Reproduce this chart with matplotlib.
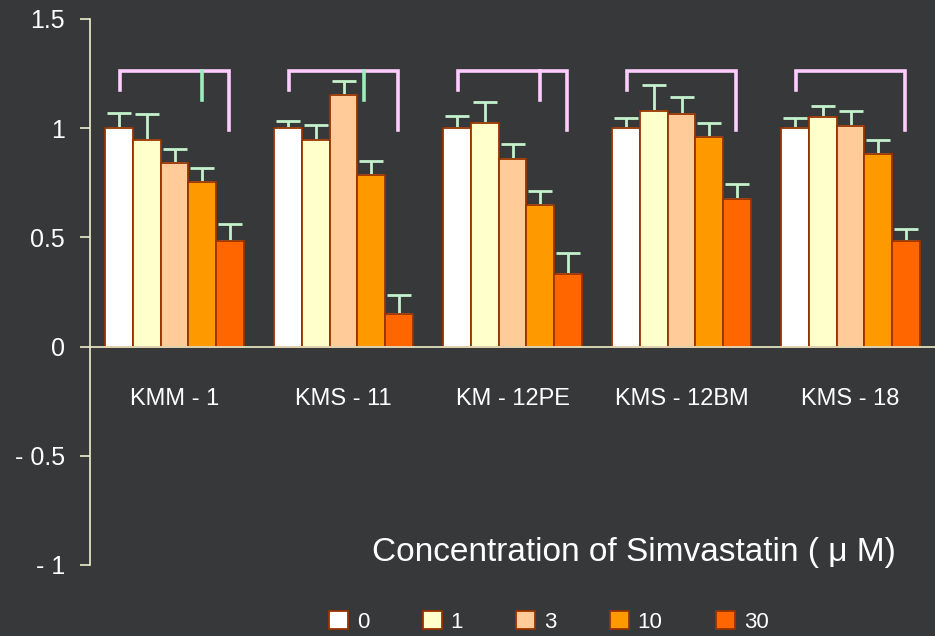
import matplotlib.pyplot as plt
import numpy as np

plt.rcParams['font.family'] = ['Liberation Sans', 'DejaVu Sans']

cell_lines = ['KMM-1', 'KMS-11', 'KM-12PE', 'KMS-12BM', 'KMS-18']
doses = ['0', '1', '3', '10', '30']

# relative viability per dose (rows) and cell line (columns)
means = [
    [1.00, 1.00, 1.00, 1.00, 1.00],
    [0.947, 0.947, 1.024, 1.078, 1.053],
    [0.839, 1.154, 0.860, 1.067, 1.012],
    [0.753, 0.787, 0.647, 0.959, 0.883],
    [0.484, 0.148, 0.333, 0.677, 0.483],
]
errors = [
    [0.07, 0.035, 0.058, 0.046, 0.046],
    [0.12, 0.068, 0.098, 0.12, 0.047],
    [0.066, 0.064, 0.068, 0.078, 0.067],
    [0.066, 0.065, 0.065, 0.065, 0.065],
    [0.076, 0.088, 0.097, 0.066, 0.054],
]
# significance mark inside each bracket (None = no mark)
mark_colors = ['#99eebb', '#99eebb', '#ffccff', None, None]

fills = ['#ffffff', '#ffffcc', '#ffcc99', '#ff9900', '#ff6600']
edge = '#993300'
axis_col = '#eeeecc'
bg = '#36383a'

fig = plt.figure(figsize=(9.35, 6.36), dpi=100)
fig.patch.set_facecolor(bg)
ax = fig.add_axes([90 / 935, 71 / 636, 845 / 935, 546 / 636])
ax.set_facecolor('none')

x = np.arange(len(cell_lines))
w = 0.165
for k, (m, e) in enumerate(zip(means, errors)):
    pos = x + (k - 2) * w
    ax.bar(pos, m, width=w, color=fills[k], edgecolor=edge, linewidth=1.3,
           label=doses[k], zorder=3)
    ax.errorbar(pos, m, yerr=[np.zeros(len(e)), e], fmt='none',
                ecolor='#c4f2cc', elinewidth=2, capsize=8.5, capthick=2,
                zorder=2)

# brackets above each group
top, left_end, right_end = 1.26, 1.174, 0.99
for i in x:
    x0, x1 = i - 0.32, i + 0.32
    ax.plot([x0, x0, x1, x1], [left_end, top, top, right_end],
            color='#ffccff', lw=2.6, solid_joinstyle='miter', zorder=4)
    if mark_colors[i] is not None:
        xm = i + 0.16 if i != 1 else i + 0.12
        ax.plot([xm, xm], [top, 1.128], color=mark_colors[i], lw=2.6, zorder=4)

ax.set_xlim(-0.5, 4.5)
ax.set_ylim(-1, 1.5)
ax.axhline(0, color=axis_col, lw=1.2, zorder=5)
for s in ['top', 'right', 'bottom']:
    ax.spines[s].set_visible(False)
ax.spines['left'].set_color(axis_col)
ax.spines['left'].set_linewidth(1.2)
ax.set_xticks([])
ax.set_yticks([-1, -0.5, 0, 0.5, 1, 1.5])
ax.set_yticklabels(['- 1', '- 0.5', '0', '0.5', '1', '1.5'])
ax.tick_params(axis='y', direction='out', length=7, width=1.2, color=axis_col,
               labelcolor='white', labelsize=18, pad=11)

for i, name in enumerate(cell_lines):
    ax.text(i, -0.24, name.replace('-', ' - '), color='white', fontsize=17,
            ha='center', va='center')

fig.text(0.678, 0.132, 'Concentration of Simvastatin ( \u03bc M)', color='white',
         fontsize=24, ha='center', va='center')

fig.legend(loc='center', bbox_to_anchor=(0.587, 0.022), ncol=5, frameon=False,
           labelcolor='white', fontsize=16, handlelength=0.85, handleheight=0.85,
           handletextpad=0.4, columnspacing=2.4)

fig.savefig('out.png', dpi=100, facecolor=bg)
